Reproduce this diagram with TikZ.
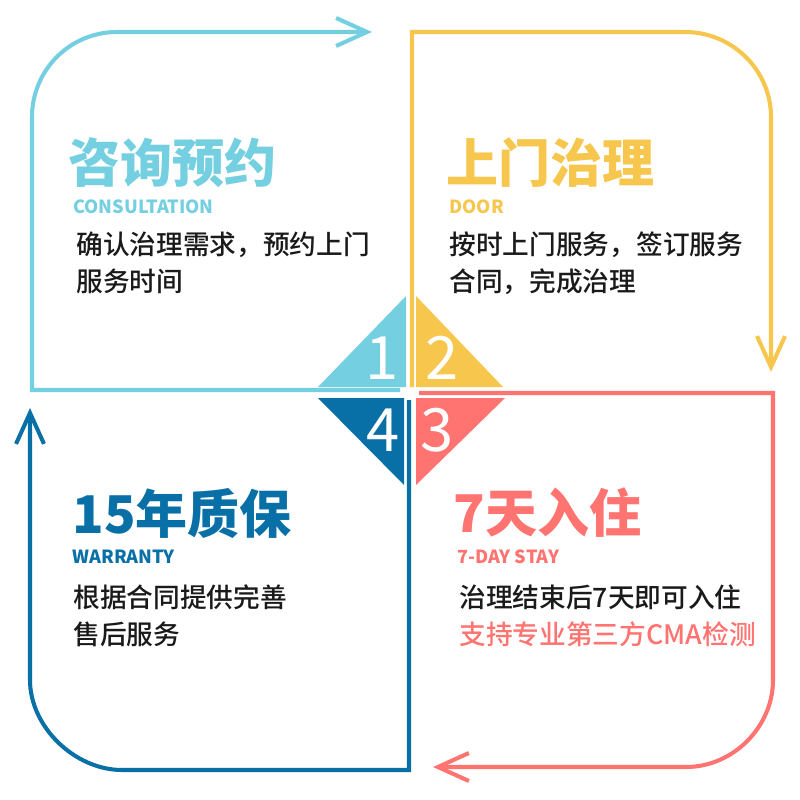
\documentclass[tikz,border=0pt]{standalone}
\usepackage{fontspec}
\setmainfont{Noto Sans CJK SC}
\newfontfamily\midfont{Noto Sans CJK SC Medium}
\usepackage{xcolor}
\usetikzlibrary{arrows.meta, positioning}

\definecolor{stepcyan}{HTML}{74CFE0}
\definecolor{stepyellow}{HTML}{F6C64D}
\definecolor{stepred}{HTML}{FF7370}
\definecolor{stepblue}{HTML}{0870A6}
\definecolor{bodyink}{HTML}{1A1A1A}

\begin{document}
\begin{tikzpicture}[x=0.02cm, y=-0.02cm,
  frame/.style={line width=2.3pt, -{Straight Barb[length=0.62cm, width=0.56cm]}},
  title/.style={anchor=west, inner sep=0pt, font=\bfseries\fontsize{29.6}{30}\selectfont},
  sub/.style={anchor=west, inner sep=0pt, font=\bfseries\fontsize{10.3}{12}\selectfont},
  body/.style={anchor=west, inner sep=0pt, align=left, text=bodyink, font=\midfont\fontsize{15.2}{21}\selectfont},
  num/.style={inner sep=0pt, text=white, font=\fontsize{34}{34}\selectfont},
]

\fill[white] (0,0) rectangle (800,800);
\useasboundingbox (0,0) rectangle (800,800);

% frames with arrows
\draw[frame, stepcyan] (400,390) -- (32,390) -- (32,117) .. controls (32,70) and (70,32) .. (117,32) -- (372,32);
\draw[frame, stepyellow] (412,387) -- (412,32) -- (685,32) .. controls (732,32) and (771,70) .. (771,117) -- (771,372);
\draw[frame, stepred] (419,393) -- (773,393) -- (773,680) .. controls (773,727) and (733,767) .. (686,767) -- (433,767);
\draw[frame, stepblue] (409,400) -- (409,770) -- (122,770) .. controls (75,770) and (30,727) .. (30,680) -- (30,408);

% center triangles
\fill[stepcyan] (318,387) -- (406,296) -- (406,387) -- cycle;
\fill[stepyellow] (416,296) -- (503,387) -- (416,387) -- cycle;
\fill[stepred] (416,398) -- (505,398) -- (416,485) -- cycle;
\fill[stepblue] (318,398) -- (404,398) -- (404,485) -- cycle;
\node[num] (n1) at (382,358) {1};
\node[num] (n2) at (442,358) {2};
\node[num] (n3) at (437,430) {3};
\node[num] (n4) at (383,430) {4};

% step 1
\node[title, text=stepcyan] (t1) at (68,163) {咨询预约};
\node[sub, text=stepcyan] (s1) at (73,207) {CONSULTATION};
\node[body] (b1) at (76,263) {确认治理需求，预约上门\\服务时间};

% step 2
\node[title, text=stepyellow] (t2) at (446,163) {上门治理};
\node[sub, text=stepyellow] (s2) at (449,207) {DOOR};
\node[body] (b2) at (449,263) {按时上门服务，签订服务\\合同，完成治理};

% step 3
\node[title, text=stepred] (t3) at (453,513) {7天入住};
\node[sub, text=stepred] (s3) at (457,557) {7-DAY STAY};
\node[body] (b3) at (459,616) {治理结束后7天即可入住\\\textcolor{stepred}{支持专业第三方CMA检测}};

% step 4
\node[title, text=stepblue] (t4) at (72,513) {15年质保};
\node[sub, text=stepblue] (s4) at (72,557) {WARRANTY};
\node[body] (b4) at (73,616) {根据合同提供完善\\售后服务};

\end{tikzpicture}
\end{document}
